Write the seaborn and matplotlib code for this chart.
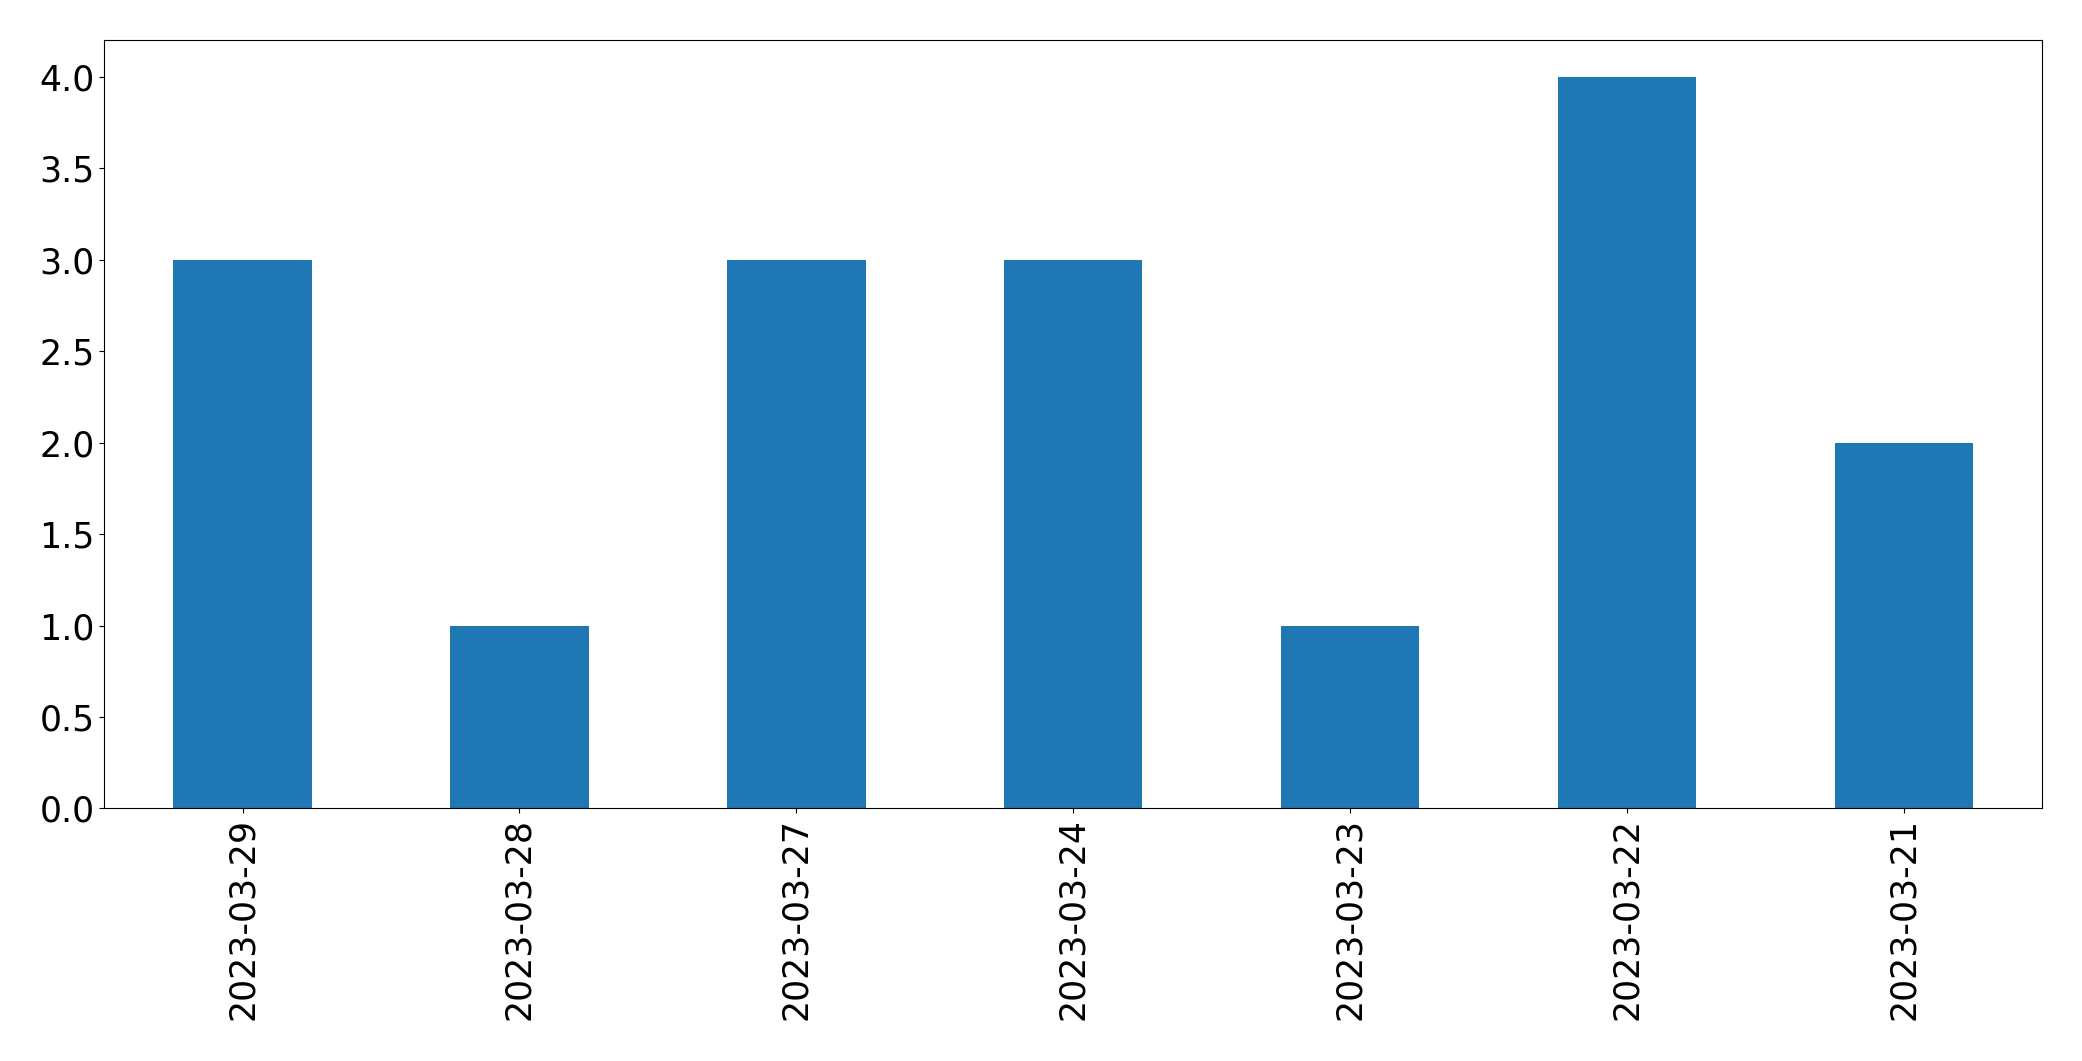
import matplotlib
matplotlib.use("Agg")
import matplotlib.pyplot as plt
import pandas as pd
import seaborn as sns

dates = ["2023-03-29", "2023-03-28", "2023-03-27", "2023-03-24",
         "2023-03-23", "2023-03-22", "2023-03-21"]
counts = [3, 1, 3, 3, 1, 4, 2]

df = pd.DataFrame({"date": dates, "count": counts})

plt.rcParams["font.family"] = ["DejaVu Sans"]

fig, ax = plt.subplots(figsize=(20.82, 10.61), dpi=100)
sns.barplot(data=df, x="date", y="count", order=dates, color="#1f77b4",
            saturation=1, width=0.5, linewidth=0, ax=ax)
ax.set_xlim(-0.5, len(dates) - 0.5)
ax.set_ylim(0, 4.2)
ax.set_xlabel("")
ax.set_ylabel("")
ax.tick_params(axis="both", labelsize=25)
plt.xticks(rotation=90)
plt.subplots_adjust(left=0.05, right=0.981, top=0.962, bottom=0.238)
plt.savefig("out.png")
